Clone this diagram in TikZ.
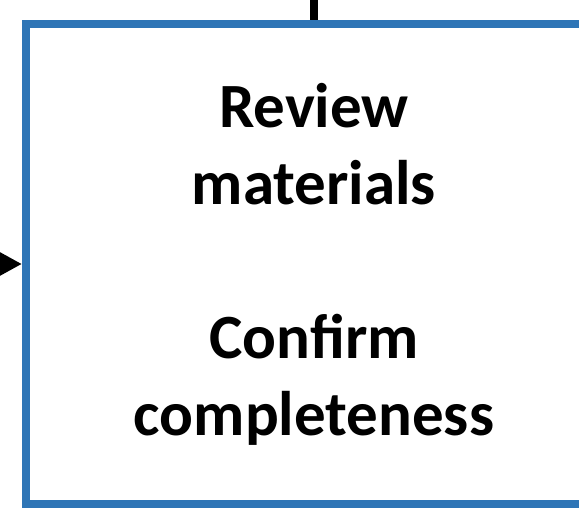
\documentclass[tikz,border=0pt]{standalone}
\usepackage{fontspec}
\setmainfont{Carlito}
\usepackage{tikz}
\usetikzlibrary{arrows.meta,positioning}
\definecolor{boxblue}{RGB}{46,117,182}

\begin{document}
\begin{tikzpicture}[x=1pt, y=1pt]
		\useasboundingbox (0, 0) rectangle (579, 516);
		\node (review) [draw=boxblue, line width=8pt, minimum width=576pt, minimum height=480pt,
			align=center, font=\fontsize{63}{77}\selectfont\bfseries] at (314, 252)
			{Review\\materials\\[77pt]Confirm\\completeness};
		\coordinate (above) at (314, 530);
		\coordinate (left) at (-60, 252);
		
		\draw [-, line width=7.5pt] (above) to (review.north);
		\draw [-{Triangle[length=26pt, width=26pt]}, line width=7.5pt] (left) to (review.west);
		\end{tikzpicture}
\end{document}
